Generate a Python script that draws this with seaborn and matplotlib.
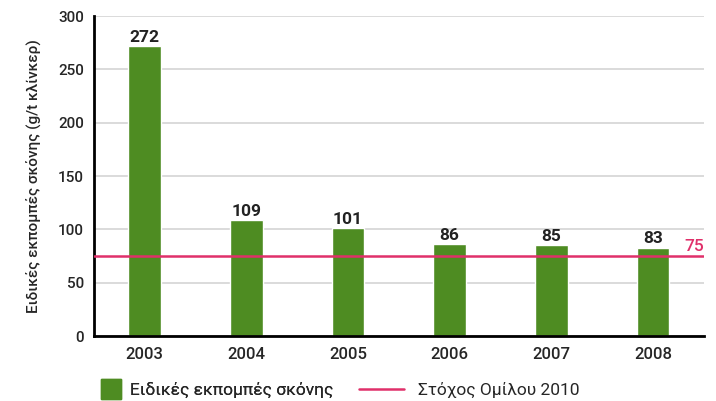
import numpy as np
import seaborn as sns
import matplotlib.pyplot as plt
import pandas as pd
from matplotlib.lines import Line2D

years = ["2003", "2004", "2005", "2006", "2007", "2008"]
dust = [272, 109, 101, 86, 85, 83]
target = 75
bar_label = "Ειδικές εκπομπές σκόνης"
target_label = "Στόχος Ομίλου 2010"
y_label = "Ειδικές εκπομπές σκόνης (g/t κλίνκερ)"

green = "#4e8c22"
pink = "#e0306a"

sns.set_style("white")
plt.rcParams["font.family"] = ["Roboto", "DejaVu Sans"]

df = pd.DataFrame({"Year": years, "Dust": dust})

fig = plt.figure(figsize=(7.16, 4.01), dpi=100)
ax = fig.add_axes([0.131, 0.162, 0.852, 0.798])

ax.yaxis.grid(True, color="#d4d4d4", linewidth=1.2, zorder=0)
ax.set_axisbelow(True)
sns.barplot(x="Year", y="Dust", data=df, color=green, width=0.32, saturation=1, ax=ax, zorder=2)

# target line + its value on the right
ax.axhline(target, color=pink, linewidth=1.8, zorder=3)
ax.text(5.5, target + 2, str(target), color=pink, ha="right", va="bottom", fontsize=12.5, fontweight="medium")

# value labels
for i, v in enumerate(dust):
    ax.text(i, v + 1, str(v), ha="center", va="bottom", fontsize=12.5, fontweight="bold", color="#222222")

ax.set_xlim(-0.5, 5.5)
ax.set_ylim(0, 300)
ax.set_yticks(np.arange(0, 301, 50))
ax.set_yticks(np.arange(25, 300, 50), minor=True)
ax.set_xticks(np.arange(-0.5, 5.6, 1), minor=True)
ax.tick_params(axis="x", which="major", length=0, labelsize=12, pad=8)
ax.tick_params(axis="x", which="minor", length=6, width=2, direction="out", color="black")
ax.tick_params(axis="y", which="both", length=5, width=2, direction="out", color="black", labelsize=11, pad=2)
for lab in ax.get_xticklabels() + ax.get_yticklabels():
    lab.set_fontweight("medium")

for s in ["top", "right"]:
    ax.spines[s].set_visible(False)
for s in ["left", "bottom"]:
    ax.spines[s].set_color("black")
    ax.spines[s].set_linewidth(2)

ax.set_xlabel("")
ax.set_ylabel(y_label, fontsize=11, labelpad=12, fontweight="medium")

# legend: square swatch for bars, line for target
sq = Line2D([0], [0], marker="s", linestyle="none", markersize=14, color=green)
leg1 = fig.legend([sq], [bar_label], loc="center left", bbox_to_anchor=(0.118, 0.027),
                  frameon=False, fontsize=12.5, handlelength=1.2, handletextpad=0.5)
fig.add_artist(leg1)
ln = Line2D([0], [0], color=pink, linewidth=1.8)
fig.legend([ln], [target_label], loc="center left", bbox_to_anchor=(0.48, 0.027),
           frameon=False, fontsize=12.5, handlelength=2.6, handletextpad=0.8)

fig.savefig("out.png", dpi=100)
